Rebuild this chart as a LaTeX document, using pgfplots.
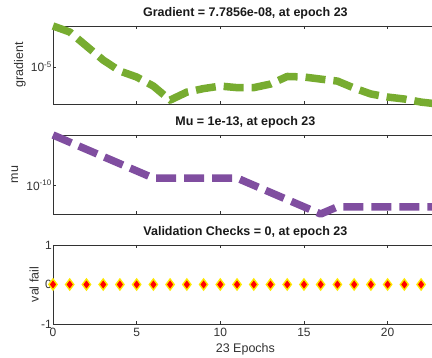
\documentclass[border=0pt]{standalone}
\usepackage{fontspec}
\setmainfont{Liberation Sans}
\usepackage{pgfplots}
\pgfplotsset{compat=1.18}
\definecolor{mgreen}{RGB}{119,172,48}
\definecolor{mpurple}{RGB}{128,78,160}
\definecolor{axgray}{RGB}{50,50,50}
\pgfplotsset{
  every axis/.append style={
    scale only axis, width=384.8pt,
    xmin=0, xmax=23,
    xtick={0,5,10,15,20},
    tick align=inside,
    major tick length=3pt,
    axis line style={axgray, line width=0.9pt},
    every tick/.style={axgray, line width=0.6pt},
    tick label style={font=\fontsize{12}{13}\selectfont, text=axgray},
    yticklabel style={inner xsep=1pt},
    /pgf/number format/assume math mode=true,
    title style={font=\bfseries\fontsize{12.5}{14}\selectfont, text=black!90, at={(axis description cs:0.5,1)}, anchor=south, yshift=-3pt},
    label style={font=\fontsize{12.5}{14}\selectfont, text=axgray},
    clip=false,
  }
}
\begin{document}
\begin{tikzpicture}
\path[use as bounding box, clip] (0pt,0pt) rectangle (432pt,-358pt);
% Gradient
\begin{axis}[at={(53pt,-26pt)}, anchor=north west, height=78pt,
  ymode=log, ymin=7.7856e-8, ymax=2.2e-3,
  ytick={1e-5}, yticklabels={10\textsuperscript{-5}},
  xticklabels={},
  title={Gradient = 7.7856e-08, at epoch 23},
  ylabel={gradient},
  ylabel style={at={(axis description cs:-0.086,0.5)}, anchor=center},
]
\addplot[mgreen, line width=7.5pt, dash pattern=on 20pt off 8pt, line join=round] coordinates {
(0,2.2e-3) (1,1e-3) (2,1.58e-4) (3,2.5e-5) (4,5.9e-6) (5,2.7e-6) (6,8.2e-7)
(7,1.3e-7) (8,3.7e-7) (9,5.9e-7) (10,8.2e-7) (11,6.7e-7) (12,6.7e-7) (13,1.07e-6)
(14,2.9e-6) (15,2.7e-6) (16,2.05e-6) (17,1.58e-6) (18,6.3e-7) (19,2.9e-7)
(20,1.94e-7) (21,1.5e-7) (22,1e-7) (23,7.7856e-8)
};
\end{axis}
% Mu
\begin{axis}[at={(53pt,-135pt)}, anchor=north west, height=79pt,
  ymode=log, ymin=1e-14, ymax=1e-3,
  ytick={1e-10}, yticklabels={10\textsuperscript{-10}},
  xticklabels={},
  title={Mu = 1e-13, at epoch 23},
  ylabel={mu},
  ylabel style={at={(axis description cs:-0.099,0.5)}, anchor=center},
]
\addplot[mpurple, line width=7.5pt, dash pattern=on 20pt off 8pt, line join=round] coordinates {
(0,1e-3) (1,1e-4) (2,1e-5) (3,1e-6) (4,1e-7) (5,1e-8) (6,1e-9)
(7,1e-9) (8,1e-9) (9,1e-9) (10,1e-9) (11,1e-9) (12,1e-10) (13,1e-11)
(14,1e-12) (15,1e-13) (16,1e-14) (17,1e-13) (18,1e-13) (19,1e-13)
(20,1e-13) (21,1e-13) (22,1e-13) (23,1e-13)
};
\end{axis}
% Validation checks
\begin{axis}[at={(53pt,-245pt)}, anchor=north west, height=79pt,
  ymin=-1, ymax=1, ytick={-1,0,1},
  title={Validation Checks = 0, at epoch 23},
  ylabel={val fail},
  ylabel style={at={(axis description cs:-0.049,0.5)}, anchor=center},
  xlabel={23 Epochs},
  xlabel style={at={(axis description cs:0.5,0)}, anchor=north, yshift=-16pt},
  xticklabel style={yshift=-0.5pt},
]
\addplot[only marks, mark=diamond*, mark size=5.5pt, mark options={fill=red, draw=yellow!90!orange, line width=1.4pt}] coordinates {
(0,0) (1,0) (2,0) (3,0) (4,0) (5,0) (6,0) (7,0) (8,0) (9,0) (10,0) (11,0)
(12,0) (13,0) (14,0) (15,0) (16,0) (17,0) (18,0) (19,0) (20,0) (21,0) (22,0) (23,0)
};
\end{axis}
\end{tikzpicture}
\end{document}
